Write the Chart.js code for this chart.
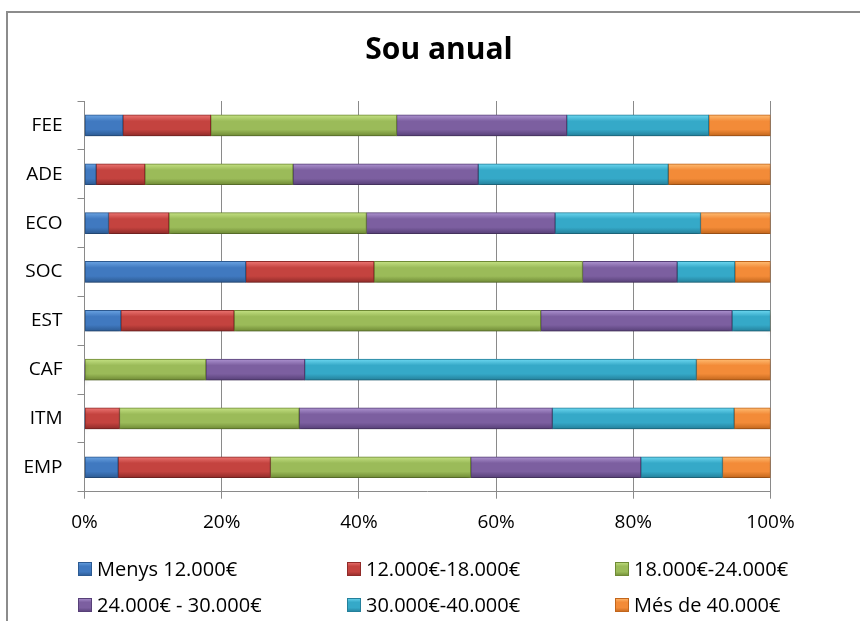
<!DOCTYPE html>
<html>
<head>
<meta charset="utf-8">
<script src="https://cdn.jsdelivr.net/npm/chart.js@4"></script>
<style>
  html, body { margin: 0; padding: 0; background: #fff; }
  #wrap { width: 860px; height: 621px; position: relative; }
</style>
</head>
<body>
<div id="wrap"><canvas id="myChart" width="860" height="621"></canvas></div>
<script>
// dades llegides del grafic (percentatges)
const categories = ["FEE", "ADE", "ECO", "SOC", "EST", "CAF", "ITM", "EMP"];
const menys12 = [5.6, 1.7, 3.5, 23.5, 5.3, 0, 0, 4.9];
const de12a18 = [12.8, 7.1, 8.8, 18.7, 16.5, 0, 5.1, 22.2];
const de18a24 = [27.1, 21.6, 28.8, 30.4, 44.7, 17.7, 26.2, 29.2];
const de24a30 = [24.8, 27.0, 27.5, 13.8, 27.9, 14.4, 36.9, 24.8];
const de30a40 = [20.7, 27.7, 21.2, 8.4, 5.6, 57.1, 26.5, 11.9];
const mesDe40 = [9.0, 14.9, 10.2, 5.2, 0, 10.8, 5.3, 7.0];
const seriesNames = ["Menys 12.000€", "12.000€-18.000€", "18.000€-24.000€", "24.000€ - 30.000€", "30.000€-40.000€", "Més de 40.000€"];
const xTicks = [0, 20, 40, 60, 80, 100];

const FONT = "'Open Sans', sans-serif";

// colors: [clar, base, fosc]
const colors = [
    ["#6aa3e2", "#4079c0", "#2c5a92"],
    ["#ec7572", "#c4433f", "#902b29"],
    ["#c4e183", "#9bbb59", "#6f8a35"],
    ["#ad93d0", "#7c5fa0", "#574078"],
    ["#6cd7f0", "#35a9c8", "#24809b"],
    ["#ffbc72", "#f38b38", "#c2661c"]
];

const barGradient = (ctx, y, h, c) => {
    const g = ctx.createLinearGradient(0, y, 0, y + h);
    g.addColorStop(0, c[0]);
    g.addColorStop(0.3, c[1]);
    g.addColorStop(0.7, c[1]);
    g.addColorStop(1, c[2]);
    return g;
};

const BAR_H = 21;

const makeDataset = (label, data, i) => ({
    label: label,
    data: data,
    barThickness: BAR_H,
    borderWidth: (c) => (c.raw === 0 ? 0 : 1),
    borderColor: colors[i][2],
    borderSkipped: false,
    backgroundColor: (c) => {
        const chart = c.chart;
        if (!chart.chartArea || c.dataIndex === undefined) return colors[i][1];
        const yc = chart.scales.y.getPixelForValue(c.dataIndex);
        return barGradient(chart.ctx, yc - BAR_H / 2, BAR_H, colors[i]);
    }
});

const allSeries = [menys12, de12a18, de18a24, de24a30, de30a40, mesDe40];
const datasets = allSeries.map((s, i) => makeDataset(seriesNames[i], s, i));

const decoracio = {
    id: "decoracio",
    beforeDraw(chart) {
        const ctx = chart.ctx;
        ctx.save();
        ctx.fillStyle = "#fff";
        ctx.fillRect(0, 0, chart.width, chart.height);
        ctx.strokeStyle = "#8c8c8c";
        ctx.lineWidth = 2;
        ctx.strokeRect(7, 12, 900, 700);
        ctx.restore();
    },
    beforeDatasetsDraw(chart) {
        const ctx = chart.ctx;
        ctx.save();
        ctx.shadowColor = "rgba(0,0,0,0.25)";
        ctx.shadowBlur = 4;
        ctx.shadowOffsetY = 3;
    },
    afterDatasetsDraw(chart) {
        chart.ctx.restore();
    },
    afterDraw(chart) {
        const ctx = chart.ctx;
        ctx.save();
        // titol
        ctx.fillStyle = "#000";
        ctx.font = "bold 30px " + FONT;
        ctx.textAlign = "center";
        ctx.textBaseline = "middle";
        ctx.fillText("Sou anual", 439, 50);
        // llegenda a 3 columnes
        const colX = [78, 347, 615];
        const rowY = [569, 605];
        ctx.font = "20px " + FONT;
        ctx.textAlign = "left";
        chart.data.datasets.forEach((ds, i) => {
            const x = colX[i % 3];
            const y = rowY[Math.floor(i / 3)];
            ctx.fillStyle = barGradient(ctx, y - 7, 14, colors[i]);
            ctx.fillRect(x, y - 7, 14, 14);
            ctx.strokeStyle = colors[i][2];
            ctx.lineWidth = 1;
            ctx.strokeRect(x + 0.5, y - 6.5, 13, 13);
            ctx.fillStyle = "#000";
            ctx.fillText(ds.label, x + 19, y + 1);
        });
        ctx.restore();
    }
};

const config = {
    type: "bar",
    data: { labels: categories, datasets: datasets },
    options: {
        indexAxis: "y",
        responsive: false,
        animation: false,
        layout: { padding: { left: 0, right: 89.5, top: 101, bottom: 0 } },
        plugins: {
            legend: { display: false },
            title: { display: false },
            tooltip: { enabled: false }
        },
        scales: {
            x: {
                stacked: true,
                min: 0,
                max: 100,
                afterBuildTicks: (s) => { s.ticks = xTicks.map((v) => ({ value: v })); },
                afterFit: (s) => { s.height = 129.3; },
                grid: { color: "#8a8a8a", lineWidth: 1, tickLength: 7 },
                border: { color: "#8a8a8a" },
                ticks: {
                    color: "#000",
                    font: { family: FONT, size: 19 },
                    padding: 12,
                    maxRotation: 0,
                    callback: (v) => v + "%"
                }
            },
            y: {
                stacked: true,
                afterFit: (s) => { s.width = 84.5; },
                grid: { drawOnChartArea: false, color: "#8a8a8a", tickLength: 7, offset: true },
                border: { color: "#8a8a8a" },
                ticks: {
                    color: "#000",
                    font: { family: FONT, size: 19 },
                    padding: 15
                }
            }
        }
    },
    plugins: [decoracio]
};

const grafico = new Chart(document.getElementById("myChart"), config);
</script>
</body>
</html>
